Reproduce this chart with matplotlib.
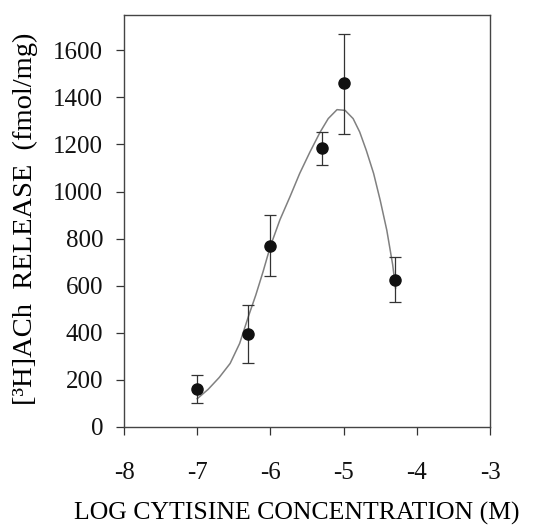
import numpy as np
import matplotlib
matplotlib.use("Agg")
import matplotlib.pyplot as plt

plt.rcParams['font.family'] = ['Liberation Serif', 'DejaVu Serif']
plt.rcParams['axes.unicode_minus'] = False

# measured release, mean and error bar (half-width down / up)
log_conc = [-7.0, -6.3, -6.0, -5.3, -5.0, -4.3]
release = [161, 395, 768, 1184, 1460, 625]
err_low = [59, 123, 127, 72, 217, 95]
err_high = [60, 123, 132, 68, 208, 95]

# fitted curve
fit_x = [-7.0, -6.85, -6.7, -6.55, -6.42, -6.3, -6.2, -6.1, -6.0, -5.87,
         -5.73, -5.6, -5.46, -5.32, -5.21, -5.09, -4.98, -4.87, -4.78,
         -4.69, -4.59, -4.5, -4.41, -4.33, -4.29]
fit_y = [120, 160, 210, 270, 355, 470, 560, 660, 768, 880,
         980, 1077, 1168, 1253, 1310, 1348, 1345, 1310, 1253,
         1175, 1077, 963, 836, 690, 590]

fig = plt.figure(figsize=(5.47, 5.25), dpi=100)
ax = fig.add_axes([0.2267, 0.1867, 0.6691, 0.7847])

ax.plot(fit_x, fit_y, color='#808080', lw=1.1)
ax.errorbar(log_conc, release, yerr=[err_low, err_high], fmt='o',
            color='#111111', ms=8, elinewidth=0.9, capsize=4, capthick=0.9,
            ecolor='#333333')

ax.set_xlim(-8, -3)
ax.set_ylim(0, 1750)
ax.set_xticks(np.arange(-8, -2, 1))
ax.set_yticks(np.arange(0, 1700, 200))
ax.tick_params(direction='out', length=6, width=0.9, labelsize=18,
               colors='#333333', labelcolor='#111111')
ax.tick_params(axis='y', pad=9)
ax.tick_params(axis='x', pad=19)
for s in ax.spines.values():
    s.set_color('#444444')
    s.set_linewidth(1.0)

ax.set_xlabel('LOG CYTISINE CONCENTRATION (M)', fontsize=18.5)
ax.xaxis.set_label_coords(0.473, -0.182)
ax.set_ylabel('[³H]ACh  RELEASE  (fmol/mg)', fontsize=20.5)
ax.yaxis.set_label_coords(-0.235, 0.505)

fig.savefig('out.png', dpi=100)
